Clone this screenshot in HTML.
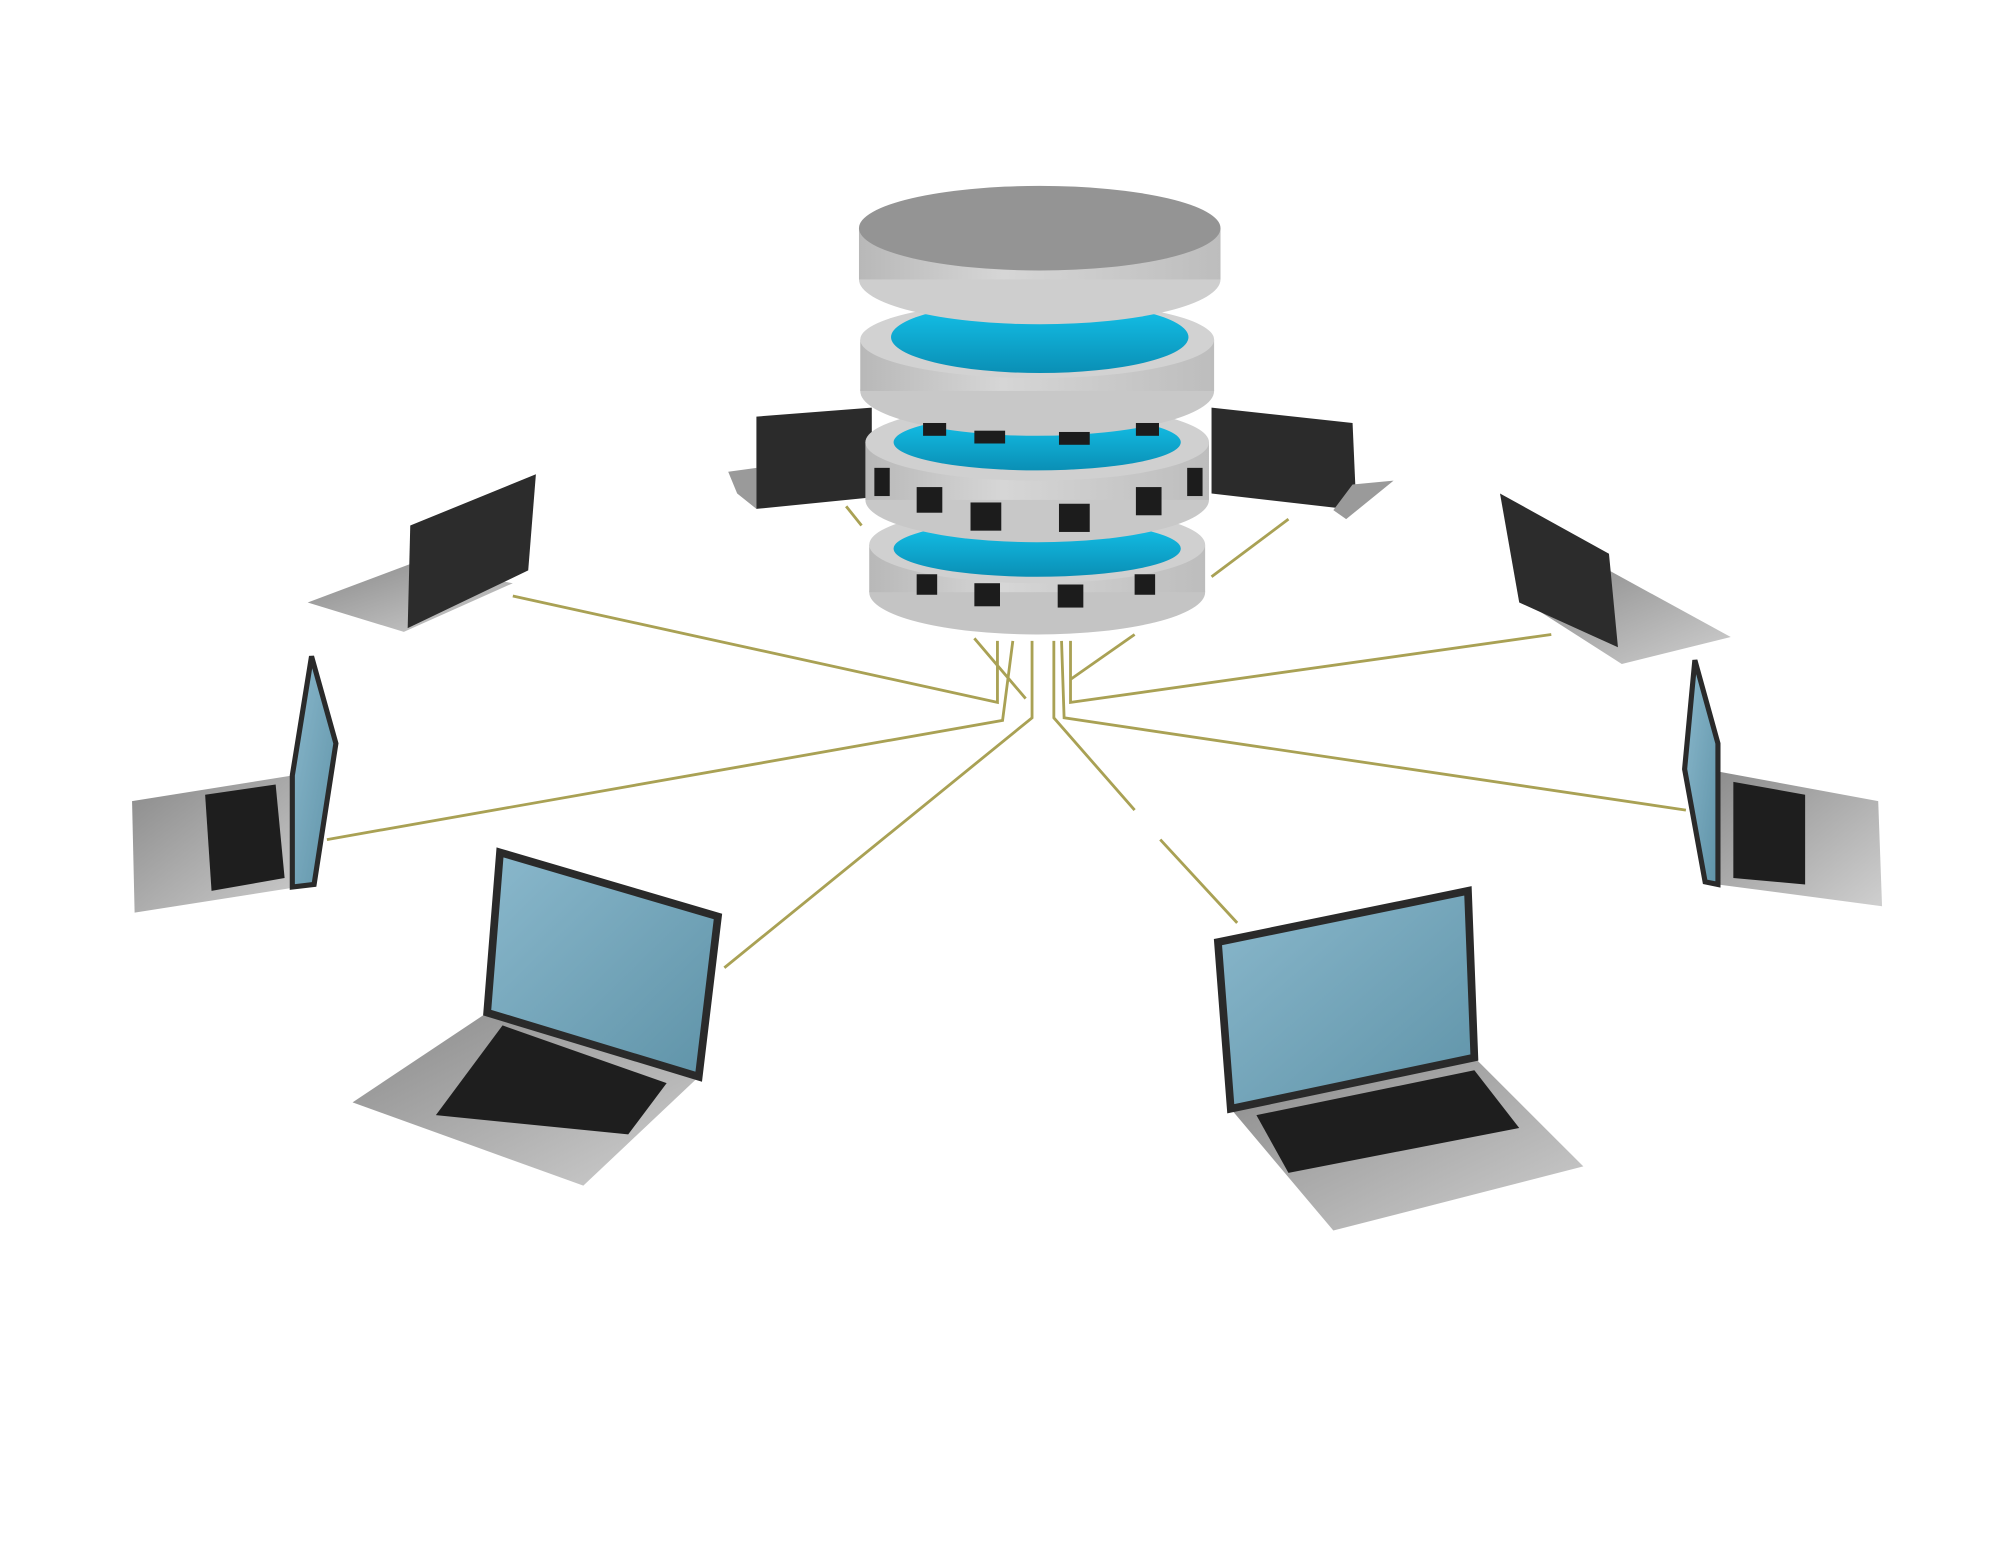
<!DOCTYPE html>
<html><head><meta charset="utf-8"><style>html,body{margin:0;padding:0;background:#fff}svg{display:block}</style></head>
<body>
<svg width="2000" height="1542" viewBox="0 0 1560 1203" preserveAspectRatio="none" xmlns="http://www.w3.org/2000/svg">
<defs>
<linearGradient id="side" x1="0" x2="1"><stop offset="0" stop-color="#b8b8b8"/><stop offset="0.4" stop-color="#d6d6d6"/><stop offset="1" stop-color="#bdbdbd"/></linearGradient>
<linearGradient id="blue" x1="0" x2="0" y1="0" y2="1"><stop offset="0" stop-color="#14c4ec"/><stop offset="1" stop-color="#0a8fb5"/></linearGradient>
<linearGradient id="base" x1="0" x2="1" y1="0" y2="1"><stop offset="0" stop-color="#8a8a8a"/><stop offset="1" stop-color="#cfcfcf"/></linearGradient>
<linearGradient id="scr" x1="0" x2="1" y1="0" y2="1"><stop offset="0" stop-color="#8ab8cc"/><stop offset="1" stop-color="#5f93a8"/></linearGradient>
</defs>
<!-- cables -->
<g stroke="#a9a154" stroke-width="2.2" fill="none">
<polyline points="400,465 778,548 778,500"/>
<polyline points="255,655 782,562 790,500"/>
<polyline points="565,755 805,560 805,500"/>
<polyline points="965,720 905,655"/>
<polyline points="885,632 822,560 822,500"/>
<polyline points="1210,495 835,548 835,500"/>
<polyline points="1315,632 830,560 828,500"/>
<line x1="660" y1="395" x2="672" y2="410"/>
<line x1="1005" y1="405" x2="945" y2="450"/>
<line x1="760" y1="498" x2="800" y2="545"/>
<line x1="885" y1="495" x2="835" y2="530"/>
</g>
<!-- back laptops -->
<polygon points="568,368 590,365 590,397 575,385" fill="#9a9a9a"/>
<polygon points="590,325 680,318 680,388 590,397" fill="#2b2b2b"/>
<polygon points="945,318 1055,330 1058,398 945,385" fill="#2b2b2b"/>
<polygon points="1055,378 1087,375 1050,405 1040,398" fill="#9a9a9a"/>
<!-- database -->
<g>
<ellipse cx="809" cy="462" rx="131" ry="33" fill="#c4c4c4"/>
<rect x="678" y="425" width="262" height="37" fill="url(#side)"/>
<ellipse cx="809" cy="425" rx="131" ry="30" fill="#d0d0d0"/>
<ellipse cx="809" cy="428" rx="112" ry="22" fill="url(#blue)"/>
<g fill="#1c1c1c"><rect x="715" y="448" width="16" height="16"/><rect x="760" y="455" width="20" height="18"/><rect x="825" y="456" width="20" height="18"/><rect x="885" y="448" width="16" height="16"/></g>
<ellipse cx="809" cy="390" rx="134" ry="33" fill="#c8c8c8"/>
<rect x="675" y="345" width="268" height="45" fill="url(#side)"/>
<ellipse cx="809" cy="345" rx="134" ry="30" fill="#d0d0d0"/>
<ellipse cx="809" cy="345" rx="112" ry="22" fill="url(#blue)"/>
<g fill="#1c1c1c"><rect x="682" y="365" width="12" height="22"/><rect x="715" y="380" width="20" height="20"/><rect x="757" y="392" width="24" height="22"/><rect x="826" y="393" width="24" height="22"/><rect x="886" y="380" width="20" height="22"/><rect x="926" y="365" width="12" height="22"/></g>
<ellipse cx="809" cy="305" rx="138" ry="35" fill="#c8c8c8"/>
<rect x="671" y="265" width="276" height="40" fill="url(#side)"/>
<ellipse cx="809" cy="265" rx="138" ry="30" fill="#d2d2d2"/>
<ellipse cx="811" cy="263" rx="116" ry="28" fill="url(#blue)"/>
<g fill="#1c1c1c"><rect x="720" y="330" width="18" height="10"/><rect x="760" y="336" width="24" height="10"/><rect x="826" y="337" width="24" height="10"/><rect x="886" y="330" width="18" height="10"/></g>
<ellipse cx="811" cy="218" rx="141" ry="35" fill="#cecece"/>
<rect x="670" y="178" width="282" height="40" fill="url(#side)"/>
<ellipse cx="811" cy="178" rx="141" ry="33" fill="#949494"/>
</g>
<!-- upper-left laptop -->
<polygon points="240,470 320,440 400,455 315,493" fill="url(#base)"/>
<polygon points="320,410 418,370 412,445 318,490" fill="#2c2c2c"/>
<!-- upper-right laptop -->
<polygon points="1190,470 1255,445 1350,497 1265,518" fill="url(#base)"/>
<polygon points="1170,385 1255,432 1262,505 1185,470" fill="#2c2c2c"/>
<!-- left mid laptop -->
<polygon points="103,625 228,605 245,690 105,712" fill="url(#base)"/>
<polygon points="160,620 215,612 222,685 165,695" fill="#1e1e1e"/>
<polygon points="243,512 262,580 245,690 228,692 228,605" fill="url(#scr)" stroke="#2a2a2a" stroke-width="4"/>
<!-- right mid laptop -->
<polygon points="1330,600 1465,625 1468,707 1340,690" fill="url(#base)"/>
<polygon points="1352,610 1408,620 1408,690 1352,685" fill="#1e1e1e"/>
<polygon points="1322,515 1340,580 1340,690 1330,688 1314,600" fill="url(#scr)" stroke="#2a2a2a" stroke-width="4"/>
<!-- front-left laptop -->
<polygon points="380,790 545,840 455,925 275,860" fill="url(#base)"/>
<polygon points="392,800 520,845 490,885 340,870" fill="#1e1e1e"/>
<polygon points="390,665 560,715 545,840 380,790" fill="url(#scr)" stroke="#2a2a2a" stroke-width="6"/>
<!-- front-right laptop -->
<polygon points="960,865 1150,825 1235,910 1040,960" fill="url(#base)"/>
<polygon points="980,870 1150,835 1185,880 1005,915" fill="#1e1e1e"/>
<polygon points="950,735 1145,695 1150,825 960,865" fill="url(#scr)" stroke="#2a2a2a" stroke-width="6"/>
</svg>
</body></html>
